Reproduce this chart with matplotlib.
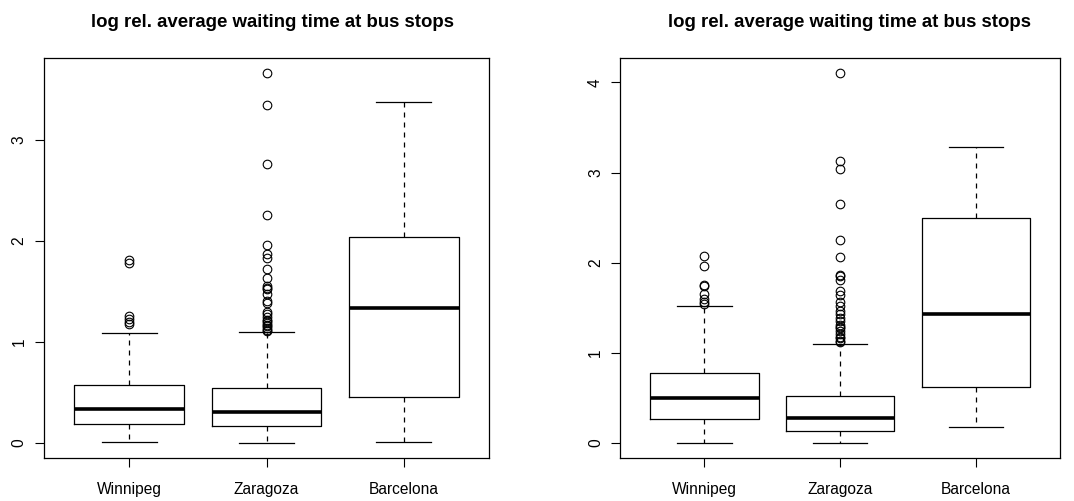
import matplotlib
matplotlib.use("Agg")
import matplotlib.pyplot as plt

plt.rcParams['font.family'] = ['Liberation Sans', 'DejaVu Sans']

cities = ['Winnipeg', 'Zaragoza', 'Barcelona']
title = 'log rel. average waiting time at bus stops'

# five-number summaries per city: lower whisker, Q1, median, Q3, upper whisker
left_whislo = [0.01, 0.00, 0.013]
left_q1 = [0.188, 0.165, 0.455]
left_med = [0.336, 0.307, 1.335]
left_q3 = [0.57, 0.54, 2.04]
left_whishi = [1.088, 1.10, 3.376]
left_fliers = [
    [1.18, 1.20, 1.23, 1.26, 1.78, 1.81],
    [1.105, 1.12, 1.14, 1.155, 1.17, 1.19, 1.21, 1.22, 1.25, 1.28, 1.30,
     1.385, 1.40, 1.47, 1.52, 1.53, 1.55, 1.63, 1.72, 1.83, 1.87, 1.96,
     2.26, 2.76, 3.345, 3.66],
    [],
]

right_whislo = [0.0, 0.004, 0.174]
right_q1 = [0.266, 0.129, 0.621]
right_med = [0.495, 0.281, 1.434]
right_q3 = [0.776, 0.518, 2.495]
right_whishi = [1.523, 1.10, 3.279]
right_fliers = [
    [1.545, 1.564, 1.597, 1.656, 1.74, 1.752, 1.963, 2.07],
    [1.12, 1.135, 1.16, 1.179, 1.21, 1.238, 1.27, 1.29, 1.312, 1.35, 1.383,
     1.43, 1.46, 1.52, 1.56, 1.638, 1.69, 1.804, 1.85, 1.863, 2.067, 2.248,
     2.65, 3.04, 3.131, 4.103],
    [],
]


def make_stats(whislo, q1, med, q3, whishi, fliers):
    stats = []
    for i in range(len(cities)):
        stats.append(dict(whislo=whislo[i], q1=q1[i], med=med[i], q3=q3[i],
                          whishi=whishi[i], fliers=fliers[i], label=cities[i]))
    return stats


def draw_panel(ax, stats, ymax_ticks, title_x):
    ax.bxp(stats, positions=[1, 2, 3], widths=0.8, showfliers=True,
           boxprops=dict(color='black', linewidth=0.9),
           medianprops=dict(color='black', linewidth=2.6, solid_capstyle='butt'),
           whiskerprops=dict(color='black', linewidth=0.9, linestyle=(0, (4, 4))),
           capprops=dict(color='black', linewidth=0.9),
           capwidths=0.4,
           flierprops=dict(marker='o', markerfacecolor='none',
                           markeredgecolor='black', markersize=6.2,
                           markeredgewidth=0.8, linestyle='none'))
    # R-style 4% padding around the data range
    lo = min(s['whislo'] for s in stats)
    hi = max(max([s['whishi']] + list(s['fliers'])) for s in stats)
    pad = (hi - lo) * 0.04
    ax.set_ylim(lo - pad, hi + pad)
    ax.set_xlim(0.38, 3.62)
    ax.set_yticks(range(ymax_ticks + 1))
    ax.set_yticklabels([str(v) for v in range(ymax_ticks + 1)],
                       rotation=90, va='center')
    ax.set_xticks([1, 2, 3])
    ax.set_xticklabels(cities)
    ax.tick_params(axis='both', direction='out', length=6.5, width=0.8,
                   labelsize=11.2)
    ax.tick_params(axis='y', pad=6)
    ax.tick_params(axis='x', pad=11)
    for sp in ax.spines.values():
        sp.set_linewidth(0.9)
    ax.set_title(title, fontsize=13.4, fontweight='bold', pad=22.5, x=title_x)


fig = plt.figure(figsize=(10.74, 5.01), dpi=100)
ax1 = fig.add_axes([0.041, 0.0864, 0.4143, 0.7972])
ax2 = fig.add_axes([0.5776, 0.0864, 0.4094, 0.7972])

draw_panel(ax1, make_stats(left_whislo, left_q1, left_med, left_q3,
                           left_whishi, left_fliers), 3, 0.514)
draw_panel(ax2, make_stats(right_whislo, right_q1, right_med, right_q3,
                           right_whishi, right_fliers), 4, 0.522)

fig.savefig('out.png', dpi=100)
